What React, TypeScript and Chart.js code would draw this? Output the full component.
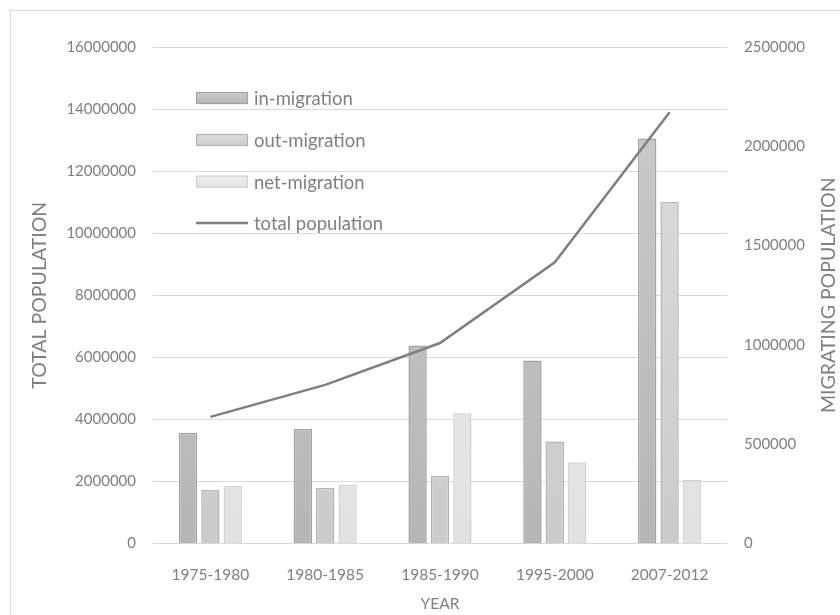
import { useEffect, useRef } from "react";
import { Chart, registerables } from "chart.js";

Chart.register(...registerables);

const categories = ["1975-1980", "1980-1985", "1985-1990", "1995-2000", "2007-2012"];
const inMigration = [558000, 577000, 997000, 921000, 2039000];
const outMigration = [270000, 281000, 340000, 513000, 1720000];
const netMigration = [290000, 296000, 656000, 409000, 320000];
const totalPopulation = [4080000, 5110000, 6460000, 9060000, 13900000];

const leftAxisMax = 16000000;
const leftAxisStep = 2000000;
const rightAxisMax = 2500000;
const rightAxisStep = 500000;

const seriesLabels = ["in-migration", "out-migration", "net-migration", "total population"];
const axisTitles = { x: "YEAR", left: "TOTAL POPULATION", right: "MIGRATING POPULATION" };

const FONT = "Lato";
const TEXT = "#7f7f7f";
const GRID = "#d9d9d9";

const barStyles = [
  { top: "#cccccc", bottom: "#b6b6b6", border: "#a3a3a3" },
  { top: "#dedede", bottom: "#cbcbcb", border: "#b4b4b4" },
  { top: "#efefef", bottom: "#e1e1e1", border: "#d2d2d2" },
];

function gradientFor(idx: number) {
  return (c: any) => {
    const chart = c.chart;
    const area = chart.chartArea;
    const st = barStyles[idx];
    if (!area) return st.top;
    const g = chart.ctx.createLinearGradient(0, area.top, 0, area.bottom);
    g.addColorStop(0, st.top);
    g.addColorStop(1, st.bottom);
    return g;
  };
}

const plainNumber = (v: any) => String(v);

const frameAndLegend = {
  id: "frameAndLegend",
  beforeDraw(chart: any) {
    const ctx = chart.ctx;
    ctx.save();
    ctx.fillStyle = "#ffffff";
    ctx.fillRect(0, 0, chart.width, chart.height);
    ctx.strokeStyle = GRID;
    ctx.lineWidth = 1;
    ctx.strokeRect(10.5, 10.5, chart.width + 10, chart.height + 10);
    ctx.restore();
  },
  afterDraw(chart: any) {
    const ctx = chart.ctx;
    const area = chart.chartArea;
    ctx.save();
    const ys = [98, 140, 181.7, 223];
    const x0 = 196;
    const w = 52;
    ctx.font = `18.5px ${FONT}`;
    ctx.textBaseline = "middle";
    ctx.textAlign = "left";
    chart.data.datasets.forEach((ds: any, i: number) => {
      const y = ys[i];
      if (ds.type === "line") {
        ctx.strokeStyle = ds.borderColor;
        ctx.lineWidth = ds.borderWidth;
        ctx.beginPath();
        ctx.moveTo(x0, y);
        ctx.lineTo(x0 + w, y);
        ctx.stroke();
      } else {
        const st = barStyles[i];
        const g = ctx.createLinearGradient(0, y - 6, 0, y + 6);
        g.addColorStop(0, st.top);
        g.addColorStop(1, st.bottom);
        ctx.fillStyle = g;
        ctx.fillRect(x0, y - 6, w, 12);
        ctx.strokeStyle = st.border;
        ctx.lineWidth = 1.2;
        ctx.strokeRect(x0 + 0.5, y - 5.5, w - 1, 11);
      }
      ctx.fillStyle = TEXT;
      ctx.fillText(ds.label, x0 + w + 6, y + 1);
    });
    ctx.translate(829, (area.top + area.bottom) / 2);
    ctx.rotate(-Math.PI / 2);
    ctx.textAlign = "center";
    ctx.font = `19.5px ${FONT}`;
    ctx.fillText(axisTitles.right, 0, 0);
    ctx.restore();
  },
};

export default function App() {
  const ref = useRef<HTMLCanvasElement>(null);
  useEffect(() => {
    if (!ref.current) return;
    const chart = new Chart(ref.current, {
      type: "bar",
      data: {
        labels: categories,
        datasets: [
          {
            label: seriesLabels[0],
            data: inMigration,
            backgroundColor: gradientFor(0),
            borderColor: barStyles[0].border,
            borderWidth: 1.5,
            yAxisID: "y1",
            order: 1,
          },
          {
            label: seriesLabels[1],
            data: outMigration,
            backgroundColor: gradientFor(1),
            borderColor: barStyles[1].border,
            borderWidth: 1.5,
            yAxisID: "y1",
            order: 1,
          },
          {
            label: seriesLabels[2],
            data: netMigration,
            backgroundColor: gradientFor(2),
            borderColor: barStyles[2].border,
            borderWidth: 1.5,
            yAxisID: "y1",
            order: 1,
          },
          {
            type: "line",
            label: seriesLabels[3],
            data: totalPopulation,
            borderColor: "#7f7f7f",
            backgroundColor: "#7f7f7f",
            borderWidth: 2.5,
            pointRadius: 0,
            tension: 0,
            yAxisID: "y",
            order: 0,
          } as any,
        ],
      },
      options: {
        responsive: false,
        animation: false,
        devicePixelRatio: 1,
        layout: { padding: { top: 47, left: 0, right: 0, bottom: 0 } },
        datasets: {
          bar: { categoryPercentage: 0.585, barPercentage: 0.82 },
        } as any,
        plugins: {
          legend: { display: false },
          tooltip: { enabled: false },
        },
        scales: {
          x: {
            grid: { display: false, drawTicks: false },
            border: { display: false },
            ticks: { color: TEXT, font: { family: FONT, size: 15.5 }, padding: 22 },
            title: {
              display: true,
              text: axisTitles.x,
              color: TEXT,
              font: { family: FONT, size: 15.5 },
              padding: { top: 0, bottom: 2 },
            },
            afterFit: (s: any) => {
              s.height = 71.5;
            },
          },
          y: {
            position: "left",
            min: 0,
            max: leftAxisMax,
            ticks: {
              stepSize: leftAxisStep,
              color: TEXT,
              font: { family: FONT, size: 15 },
              padding: 17,
              callback: plainNumber,
            },
            grid: { color: GRID, lineWidth: 1, drawTicks: false },
            border: { display: false },
            title: {
              display: true,
              text: axisTitles.left,
              color: TEXT,
              font: { family: FONT, size: 19.5 },
              padding: { top: 28, bottom: 0 },
            },
            afterFit: (s: any) => {
              s.width = 153;
            },
          },
          y1: {
            position: "right",
            min: 0,
            max: rightAxisMax,
            ticks: {
              stepSize: rightAxisStep,
              color: TEXT,
              font: { family: FONT, size: 15 },
              padding: 17,
              callback: plainNumber,
            },
            grid: { display: false, drawTicks: false },
            border: { display: false },
            afterFit: (s: any) => {
              s.width = 113;
            },
          },
        },
      },
      plugins: [frameAndLegend],
    });
    return () => chart.destroy();
  }, []);
  return (
    <div style={{ position: "absolute", left: 0, top: 0, width: 840, height: 615 }}>
      <canvas ref={ref} width={840} height={615} style={{ display: "block" }} />
    </div>
  );
}
